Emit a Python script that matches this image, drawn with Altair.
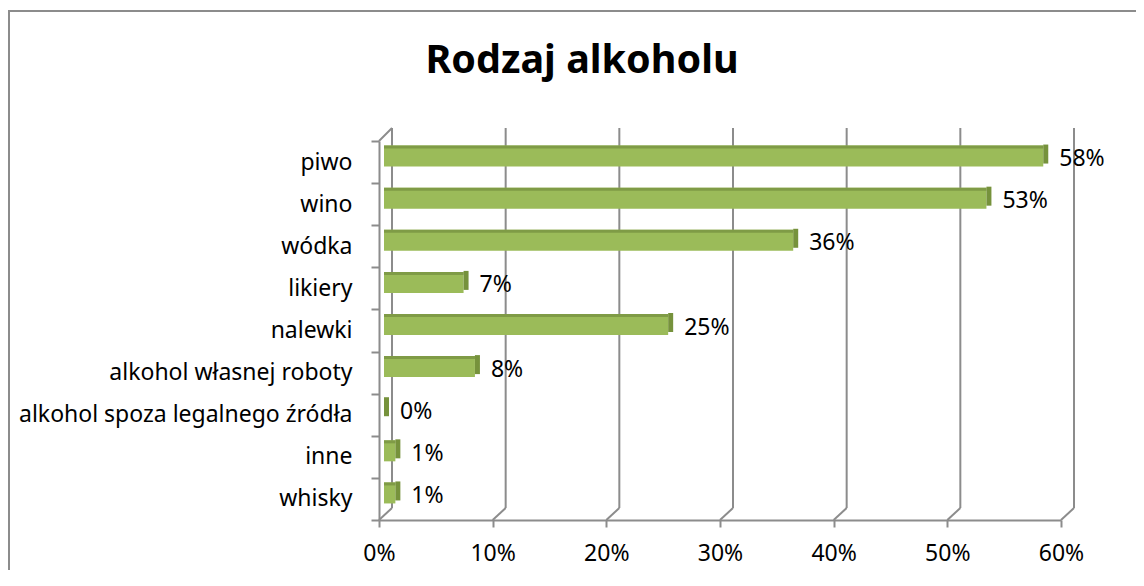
import altair as alt
import pandas as pd

categories = ["piwo", "wino", "wódka", "likiery", "nalewki",
              "alkohol własnej roboty", "alkohol spoza legalnego źródła",
              "inne", "whisky"]
values = [58, 53, 36, 7, 25, 8, 0, 1, 1]
tick_values = [0, 10, 20, 30, 40, 50, 60]
title_text = "Rodzaj alkoholu"

df = pd.DataFrame({
    "cat": categories,
    "val": values,
    "zero": [0] * len(values),
    "label": [f"{v}%" for v in values],
})
ticks = pd.DataFrame({"t": tick_values})
one = pd.DataFrame({"a": [0]})

FONT = "Noto Sans"
GRAY = "#8c8c8c"
FS = 23

xscale = alt.Scale(domain=[0, 60], nice=False, zero=True)
yscale = alt.Scale(domain=categories, paddingInner=0, paddingOuter=0)

axis_x = alt.Axis(title=None, values=tick_values, labelExpr="datum.value + '%'",
                  domainColor=GRAY, domainWidth=2, tickColor=GRAY, tickWidth=2,
                  tickSize=7, labelPadding=15, labelFontSize=FS, labelFont=FONT,
                  labelColor="black", grid=False, labelFlush=False)
axis_y = alt.Axis(title=None, domainColor=GRAY, domainWidth=2, tickColor=GRAY,
                  tickWidth=2, tickSize=8, tickBand="extent", labelFontSize=FS,
                  labelFont=FONT, labelColor="black", labelPadding=19, grid=False,
                  labelLimit=1000)

frame_top = alt.Chart(one).mark_rule(color=GRAY, strokeWidth=2).encode(
    x=alt.value(-371), x2=alt.value(800), y=alt.value(-130))
frame_left = alt.Chart(one).mark_rule(color=GRAY, strokeWidth=2).encode(
    x=alt.value(-370), y=alt.value(-131), y2=alt.value(480))

grid = alt.Chart(ticks).mark_rule(color=GRAY, strokeWidth=2, xOffset=13).encode(
    x=alt.X("t:Q", scale=xscale, axis=axis_x), y=alt.value(-13), y2=alt.value(367))

diag = alt.Chart(ticks).mark_rule(color=GRAY, strokeWidth=2, x2Offset=13).encode(
    x=alt.X("t:Q", scale=xscale, axis=axis_x), x2="t:Q",
    y=alt.value(379), y2=alt.value(367))

topdiag = alt.Chart(one).mark_rule(color=GRAY, strokeWidth=2).encode(
    x=alt.value(0), x2=alt.value(13), y=alt.value(0), y2=alt.value(-13))

face = alt.Chart(df).mark_bar(color="#9BBB59", height=21, yOffset=-6,
                              xOffset=5, x2Offset=5).encode(
    x=alt.X("zero:Q", scale=xscale, axis=axis_x), x2="val:Q",
    y=alt.Y("cat:N", scale=yscale, axis=axis_y, sort=categories))

top = alt.Chart(df).mark_bar(color="#7F9B46", height=3, yOffset=-15,
                             xOffset=5, x2Offset=5).encode(
    x=alt.X("zero:Q", scale=xscale, axis=axis_x), x2="val:Q",
    y=alt.Y("cat:N", scale=yscale, axis=axis_y, sort=categories))

side = alt.Chart(df).mark_bar(color="#76923C", height=19, yOffset=-8,
                              xOffset=5, x2Offset=10).encode(
    x=alt.X("val:Q", scale=xscale, axis=axis_x), x2="val:Q",
    y=alt.Y("cat:N", scale=yscale, axis=axis_y, sort=categories))

labels = alt.Chart(df).mark_text(align="left", baseline="middle", dx=21, dy=-3,
                                 fontSize=FS, font=FONT, color="black").encode(
    x=alt.X("val:Q", scale=xscale, axis=axis_x),
    y=alt.Y("cat:N", scale=yscale, axis=axis_y, sort=categories),
    text="label:N")

title = alt.Chart(one).mark_text(align="center", baseline="alphabetic", fontSize=39.5,
                                 fontWeight="bold", font=FONT, color="black").encode(
    x=alt.value(203), y=alt.value(-68), text=alt.value(title_text))

chart = alt.layer(frame_top, frame_left, grid, diag, topdiag, face, top, side,
                  labels, title).properties(
    width=682, height=379,
    padding={"left": 371, "top": 133, "right": 75, "bottom": 50},
    autosize=alt.AutoSizeParams(type="none"),
).configure_view(strokeWidth=0)

chart.save("out.html", embed_options={"renderer": "svg", "actions": False})
